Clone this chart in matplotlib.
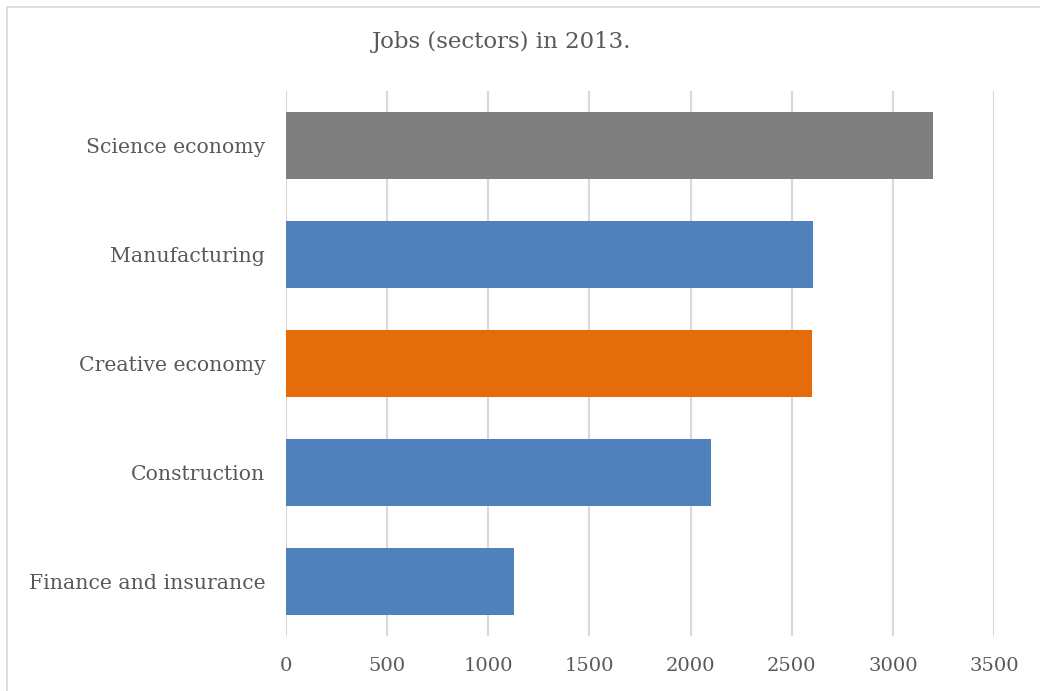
import matplotlib
matplotlib.use("Agg")
import matplotlib.pyplot as plt
from matplotlib.patches import Rectangle

categories = ["Science economy", "Manufacturing", "Creative economy", "Construction", "Finance and insurance"]
values = [3200, 2605, 2600, 2100, 1125]
colors = ["#7f7f7f", "#4f81bd", "#e46c0a", "#4f81bd", "#4f81bd"]
xticks = [0, 500, 1000, 1500, 2000, 2500, 3000, 3500]
title = "Jobs (sectors) in 2013."

plt.rcParams['font.family'] = ['DejaVu Serif']
text_color = "#595959"

fig = plt.figure(figsize=(10.4, 6.91), dpi=100)
fig.patch.set_facecolor("white")
# outer frame
fig.patches.append(Rectangle((7/1040, -0.1), 1.2, (691-7)/691 + 0.1, transform=fig.transFigure,
                             fill=False, edgecolor="#d9d9d9", linewidth=1.2))

ax = fig.add_axes([286/1040, (691-636)/691, (994-286)/1040, (636-91)/691])
ypos = list(range(len(categories)))
ax.barh(ypos, values, height=0.61, color=colors, zorder=3)
ax.set_ylim(len(categories) - 0.5, -0.5)
ax.set_xlim(0, 3500)
ax.set_xticks(xticks)
ax.set_xticklabels([str(t) for t in xticks], fontsize=14, color=text_color)
ax.set_yticks(ypos)
ax.set_yticklabels(categories, fontsize=14.7, color=text_color)
ax.tick_params(axis='x', length=0, pad=15)
ax.tick_params(axis='y', length=0, pad=15)
for s in ax.spines.values():
    s.set_visible(False)
ax.grid(axis='x', color="#d9d9d9", linewidth=1.5, zorder=0)
ax.set_axisbelow(True)

fig.text(502/1040, 1 - 42/691, title, ha='center', va='center', fontsize=16.5, color=text_color)

fig.savefig("out.png", dpi=100)
